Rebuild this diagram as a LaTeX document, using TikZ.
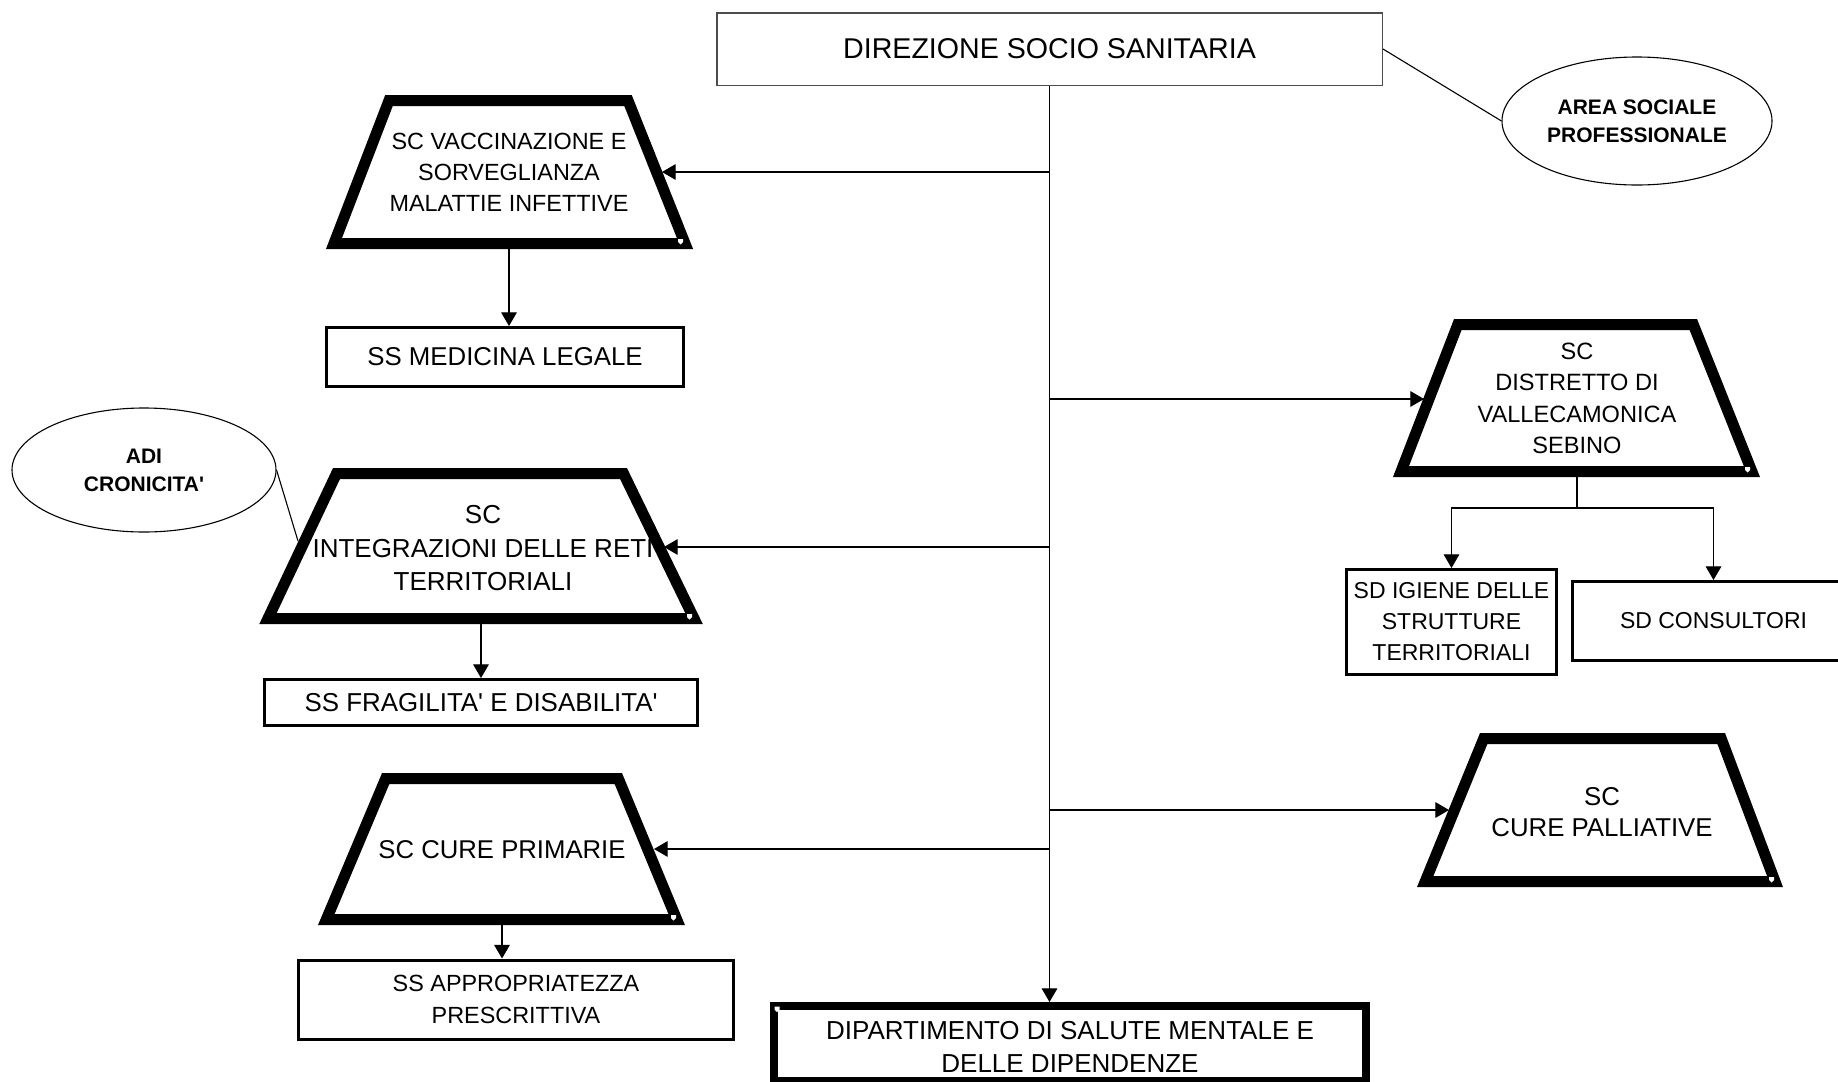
\documentclass[tikz,border=0pt]{standalone}
\usepackage{fontspec}
\setmainfont{Liberation Sans}[Ligatures=TeXOff]
\usetikzlibrary{arrows.meta,shapes.geometric}
\newcommand\myfs[2]{\fontsize{#1}{#2}\selectfont}
\tikzset{
  con/.style={line width=0.55pt, draw=black},
  arr/.style={con, -{Triangle[length=6.8pt,width=7.8pt]}},
  trapline/.style={line width=5.5pt, line join=miter, draw=black},
  ttxt/.style={align=center, inner sep=0pt},
  sbox/.style={draw, line width=1.5pt, inner sep=0pt, align=center},
  oval/.style={ellipse, draw, line width=0.55pt, inner sep=0pt, align=center, font=\bfseries\myfs{10.5}{14}},
  notch/.pic={\fill[white] (0,0) -- (5,0) -- (5,3) -- (2.5,5.5) -- (0,3) -- cycle;},
}
\begin{document}
\begin{tikzpicture}[x=0.5pt,y=-0.5pt]
\useasboundingbox (0,0) rectangle (1838,1082);
\fill[white] (0,0) rectangle (1838,1082);

% top box
\node[draw=black!70, line width=0.75pt, inner sep=0pt, minimum width=332.75pt, minimum height=36.25pt, font=\myfs{14.3}{17}] (dir) at (1049.5,49) {DIREZIONE SOCIO SANITARIA};
\node[oval, minimum width=135pt, minimum height=64pt] (area) at (1637,121) {AREA SOCIALE\\PROFESSIONALE};

% trapezoids
\draw[trapline] (389,100.5) -- (628,100.5) -- (685,243.5) -- (334,243.5) -- cycle;
\pic at (678,239) {notch};
\node[ttxt, font=\myfs{11.7}{15.5}] (vacc) at (509,172.5) {SC VACCINAZIONE E\\SORVEGLIANZA\\MALATTIE INFETTIVE};
\coordinate (vacc-e) at (662,172);
\coordinate (vacc-s) at (509,249);

\draw[trapline] (336.5,473.5) -- (623.5,473.5) -- (694,618.5) -- (268,618.5) -- cycle;
\pic at (687,614) {notch};
\node[ttxt, font=\myfs{13}{16.75}] (integ) at (483,548.5) {SC\\INTEGRAZIONI DELLE RETI\\TERRITORIALI};
\coordinate (integ-e) at (664,547);
\coordinate (integ-w) at (298,541);
\coordinate (integ-s) at (481,624);

\draw[trapline] (385.7,778.5) -- (618.3,778.5) -- (676.7,919.5) -- (326.3,919.5) -- cycle;
\pic at (671,915) {notch};
\node[ttxt, font=\myfs{12.85}{15.5}] (prim) at (502,850) {SC CURE PRIMARIE};
\coordinate (prim-e) at (654,849);
\coordinate (prim-s) at (502,925);

\draw[trapline] (1457.8,324.5) -- (1693.3,324.5) -- (1751.9,471.5) -- (1401,471.5) -- cycle;
\pic at (1745,467) {notch};
\node[ttxt, font=\myfs{11.8}{15.75}] (dist) at (1577,398.5) {SC\\DISTRETTO DI\\VALLECAMONICA\\SEBINO};
\coordinate (dist-w) at (1424,399);
\coordinate (dist-s) at (1577,477);
\coordinate (dj) at (1577,508);

\draw[trapline] (1483.7,738.5) -- (1721.2,738.5) -- (1775,881.5) -- (1425.2,881.5) -- cycle;
\pic at (1769,877) {notch};
\node[ttxt, font=\myfs{12.9}{15.5}] (pall) at (1602,812.5) {SC\\CURE PALLIATIVE};
\coordinate (pall-w) at (1449,810);

% small boxes
\node[sbox, minimum width=178.5pt, minimum height=29.5pt, font=\myfs{12.9}{15}] (med) at (505,357) {SS MEDICINA LEGALE};
\node[sbox, minimum width=216.5pt, minimum height=23pt, font=\myfs{12.95}{15}] (frag) at (481,702.5) {SS FRAGILITA' E DISABILITA'};
\node[sbox, minimum width=217.5pt, minimum height=39.5pt, font=\myfs{11.7}{16}] (appr) at (516,999.5) {SS APPROPRIATEZZA\\PRESCRITTIVA};
\node[sbox, minimum width=105pt, minimum height=52.5pt, font=\myfs{11.5}{15.5}] (igiene) at (1451.5,622) {SD IGIENE DELLE\\STRUTTURE\\TERRITORIALI};
\node[sbox, minimum width=141pt, minimum height=39.5pt, font=\myfs{11.5}{15}] (consul) at (1713.5,621) {SD CONSULTORI};
\node[draw, line width=4pt, inner sep=0pt, minimum width=296pt, minimum height=37.5pt] (dip) at (1070,1043.5) {};
\node[ttxt, font=\myfs{13}{16.5}] (diptext) at (1070,1047) {DIPARTIMENTO DI SALUTE MENTALE E\\DELLE DIPENDENZE};
\pic at (774.5,1006.5) {notch};

\node[oval, minimum width=132pt, minimum height=62pt] (adi) at (144,470) {ADI\\CRONICITA'};

% connectors
\draw[con] (dir.east) -- (area.west);
\draw[con] (adi.east) -- (integ-w);
\draw[arr] (dir.south) -- (dir.south |- dip.north);
\draw[arr] (dir.south |- vacc-e) -- (vacc-e);
\draw[arr] (dir.south |- integ-e) -- (integ-e);
\draw[arr] (dir.south |- prim-e) -- (prim-e);
\draw[arr] (dir.south |- dist-w) -- (dist-w);
\draw[arr] (dir.south |- pall-w) -- (pall-w);
\draw[arr] (vacc-s) -- (vacc-s |- med.north);
\draw[arr] (integ-s) -- (integ-s |- frag.north);
\draw[arr] (prim-s) -- (prim-s |- appr.north);
\draw[con] (dist-s) -- (dj);
\draw[arr] (dj) -| (igiene.north);
\draw[arr] (dj) -| (consul.north);
\end{tikzpicture}
\end{document}
